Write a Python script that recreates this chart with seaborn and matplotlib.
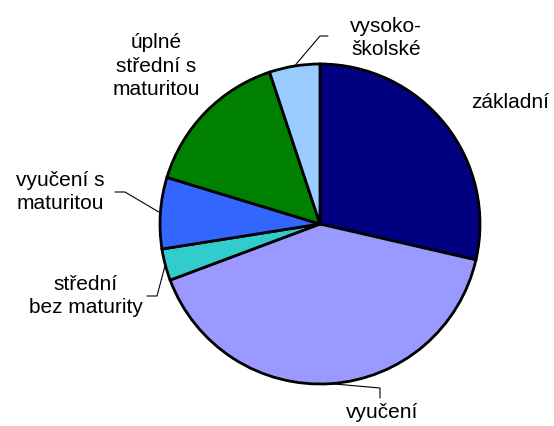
import numpy as np
import matplotlib
matplotlib.use("Agg")
import matplotlib.pyplot as plt
import seaborn as sns

# education shares (%), clockwise from 12 o'clock
categories = ["základní", "vyučení", "střední bez maturity",
              "vyučení s maturitou", "úplné střední s maturitou", "vysokoškolské"]
shares = [28.6, 40.7, 3.2, 7.2, 15.2, 5.1]
labels = ["základní", "vyučení", "střední\nbez maturity",
          "vyučení s\nmaturitou", "úplné\nstřední s\nmaturitou", "vysoko-\nškolské"]
colors = ["#000080", "#9999FF", "#33CCCC", "#3366FF", "#008000", "#99CCFF"]

sns.set_theme(style="white")
plt.rcParams["font.family"] = ["Liberation Sans", "DejaVu Sans"]

W, H = 554, 426
cx, cy, R = 320, 224, 160


def px(x, y):
    # pixel position in the picture -> data coords of the pie axes
    return (x - cx) / R, (cy - y) / R


fig = plt.figure(figsize=(W / 100, H / 100), dpi=100)
ax = fig.add_axes([(cx - R) / W, (H - cy - R) / H, 2 * R / W, 2 * R / H])
wedges, _ = ax.pie(shares, colors=colors, startangle=90, counterclock=False,
                   wedgeprops=dict(edgecolor="black", linewidth=2))
ax.set_xlim(-1, 1)
ax.set_ylim(-1, 1)
ax.axis("off")

# label text positions (pixel centres) and leader elbows
text_pos = [(510, 102), (382, 413), (86, 296), (60, 192), (156, 66), (386, 38)]
leaders = {
    1: [(380, 388), (380, 398)],
    2: [(157, 296), (147, 296)],
    3: [(125, 192), (115, 192)],
    5: [(320, 36), (328, 36)],
}

for i, (w, lab) in enumerate(zip(wedges, labels)):
    tx, ty = px(*text_pos[i])
    ax.text(tx, ty, lab, ha="center", va="center", fontsize=15, color="black",
            multialignment="center", linespacing=1.3)
    if i in leaders:
        ang = np.deg2rad((w.theta1 + w.theta2) / 2)
        pts = [(np.cos(ang), np.sin(ang))] + [px(*p) for p in leaders[i]]
        xs, ys = zip(*pts)
        ax.plot(xs, ys, color="black", lw=0.8, clip_on=False)

fig.savefig("out.png", dpi=100)
